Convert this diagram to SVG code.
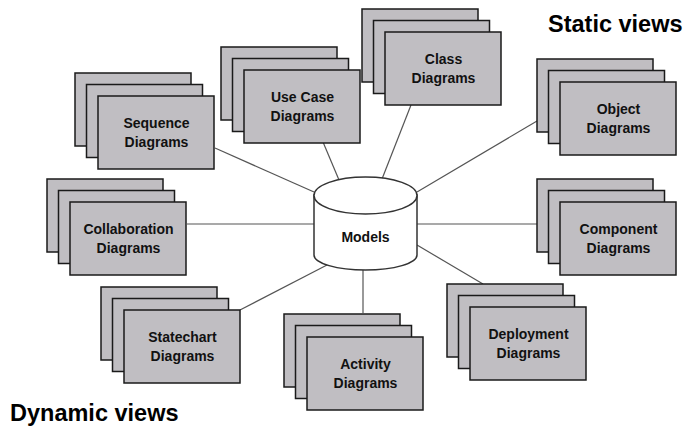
<svg xmlns="http://www.w3.org/2000/svg" width="688" height="429" viewBox="0 0 688 429">
<style>
.b{fill:#c0bec2;stroke:#1a1a1a;stroke-width:1.5}
.t{font-family:"Liberation Sans",Arial,sans-serif;font-weight:bold;font-size:14px;fill:#111;text-anchor:middle}
.h{font-family:"Liberation Sans",Arial,sans-serif;font-weight:bold;font-size:23.5px;fill:#000}
.c line{stroke:#555;stroke-width:1.2}
</style>
<defs>
<g id="stack">
<rect class="b" x="0" y="0" width="116" height="73"/>
<rect class="b" x="11.5" y="11.5" width="116" height="73"/>
<rect class="b" x="23" y="23" width="116" height="73"/>
</g>
</defs>
<rect width="688" height="429" fill="#fff"/>
<g id="connectors" class="c">
<line x1="215" y1="148" x2="314" y2="192"/>
<line x1="323" y1="142" x2="339" y2="180"/>
<line x1="411" y1="105" x2="382" y2="179"/>
<line x1="537" y1="121" x2="417" y2="192"/>
<line x1="187" y1="224" x2="314" y2="224"/>
<line x1="417" y1="224" x2="537" y2="224"/>
<line x1="417" y1="245" x2="483" y2="284"/>
<line x1="240" y1="310" x2="327" y2="265"/>
<line x1="363" y1="270" x2="363" y2="313"/>
</g>
<g id="sequence">
<use href="#stack" x="75" y="73"/>
<text class="t" x="156.5" y="128">Sequence</text>
<text class="t" x="156.5" y="147">Diagrams</text>
</g>
<g id="usecase">
<use href="#stack" x="221" y="47"/>
<text class="t" x="302.5" y="102">Use Case</text>
<text class="t" x="302.5" y="121">Diagrams</text>
</g>
<g id="class">
<use href="#stack" x="362" y="9"/>
<text class="t" x="443.5" y="64">Class</text>
<text class="t" x="443.5" y="83">Diagrams</text>
</g>
<g id="object">
<use href="#stack" x="537" y="59"/>
<text class="t" x="618.5" y="114">Object</text>
<text class="t" x="618.5" y="133">Diagrams</text>
</g>
<g id="collaboration">
<use href="#stack" x="47" y="179"/>
<text class="t" x="128.5" y="234">Collaboration</text>
<text class="t" x="128.5" y="253">Diagrams</text>
</g>
<g id="component">
<use href="#stack" x="537" y="179"/>
<text class="t" x="618.5" y="234">Component</text>
<text class="t" x="618.5" y="253">Diagrams</text>
</g>
<g id="statechart">
<use href="#stack" x="101" y="287"/>
<text class="t" x="182.5" y="342">Statechart</text>
<text class="t" x="182.5" y="361">Diagrams</text>
</g>
<g id="activity">
<use href="#stack" x="284" y="314"/>
<text class="t" x="365.5" y="369">Activity</text>
<text class="t" x="365.5" y="388">Diagrams</text>
</g>
<g id="deployment">
<use href="#stack" x="447" y="284"/>
<text class="t" x="528.5" y="339">Deployment</text>
<text class="t" x="528.5" y="358">Diagrams</text>
</g>
<g id="models">
<path d="M314,195 L314,255 A51.5,15 0 0 0 417,255 L417,195 Z" fill="#fff" stroke="#333" stroke-width="1.5"/>
<ellipse cx="365.5" cy="195.5" rx="51.5" ry="18.5" fill="#fff" stroke="#333" stroke-width="1.5"/>
<text class="t" x="365.5" y="242">Models</text>
</g>
<text class="h" x="548" y="32">Static views</text>
<text class="h" x="10" y="421">Dynamic views</text>
</svg>
